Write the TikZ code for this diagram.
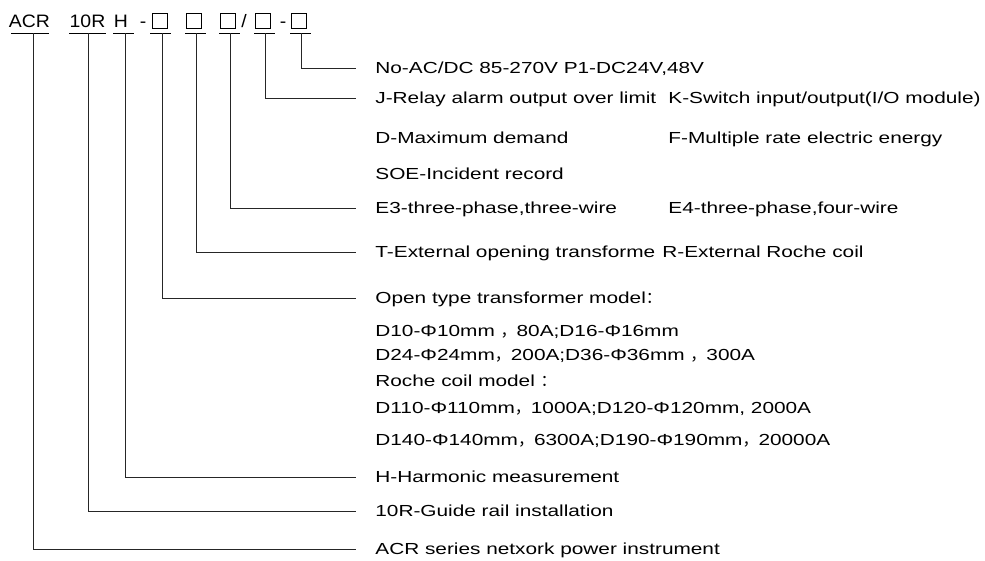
\documentclass[tikz,border=0pt]{standalone}
\usepackage{fontspec}
\setmainfont[FakeStretch=1.3]{Liberation Sans}
\newfontfamily\hdfont[FakeStretch=1.08]{Liberation Sans}
\newfontfamily\cjk{Noto Sans CJK SC}
\usetikzlibrary{positioning}

\begin{document}
\begin{tikzpicture}[x=1pt,y=-1pt,line width=0.8pt,
    hd/.style={font=\hdfont\fontsize{18}{18}\selectfont,inner sep=0pt,anchor=base},
    hbox/.style={draw,line width=0.8pt,minimum size=15pt,inner sep=0pt},
    txt/.style={font=\fontsize{16}{16}\selectfont,inner sep=0pt,anchor=west,
      text height=11.5pt,text depth=0pt},
    leg/.style={draw=black!85,line width=0.8pt,shorten >=19pt}]
  \useasboundingbox (0,0) rectangle (985,560);
  % model code
  \node[hd] (acr) at (29.5,27) {ACR};
  \node[hd] (tenr) at (87.5,27) {10R};
  \node[hd] (h) at (121,27) {H};
  \node[hd] (dashA) at (143,27) {-};
  \node[hbox] (b1) at (160,20.5) {};
  \node[hbox] (b2) at (194,20.5) {};
  \node[hbox] (b3) at (228,20.5) {};
  \node[hd] (slash) at (244,27) {/};
  \node[hbox] (b4) at (263,20.5) {};
  \node[hd] (dashB) at (283,27) {-};
  \node[hbox] (b5) at (299,20.5) {};
  % underlines
  \draw (11,33) -- (49,33);
  \draw (69,33) -- (106,33);
  \draw (113,33) -- (134,33);
  \draw (150,33) -- (171,33);
  \draw (185,33) -- (206,33);
  \draw (219,33) -- (240,33);
  \draw (254,33) -- (275,33);
  \draw (290,33) -- (311,33);
  \coordinate (sAcr) at (33,33);
  \coordinate (sTen) at (88,33);
  \coordinate (sH) at (125,33);
  \coordinate (s1) at (162,33);
  \coordinate (s2) at (196,33);
  \coordinate (s3) at (230,33);
  \coordinate (s4) at (265,33);
  \coordinate (s5) at (301,33);
  % meanings
  \node[txt] (lNo) at (375,68) {No-AC/DC 85-270V P1-DC24V,48V};
  \node[txt] (lJ) at (375,98) {J-Relay alarm output over limit};
  \node[txt] (lK) at (668,98) {K-Switch input/output(I/O module)};
  \node[txt] (lD) at (375,138) {D-Maximum demand};
  \node[txt] (lF) at (668,138) {F-Multiple rate electric energy};
  \node[txt] (lSoe) at (375,174) {SOE-Incident record};
  \node[txt] (lE3) at (375,208) {E3-three-phase,three-wire};
  \node[txt] (lE4) at (668,208) {E4-three-phase,four-wire};
  \node[txt] (lT) at (375,252) {T-External opening transforme};
  \node[txt] (lR) at (662,252) {R-External Roche coil};
  \node[txt] (lOpen) at (375,298) {Open type transformer model{\cjk ：}};
  \node[txt] (lD10) at (375,331) {D10-Φ10mm {\cjk ，}80A;D16-Φ16mm};
  \node[txt] (lD24) at (375,355) {D24-Φ24mm{\cjk ，}200A;D36-Φ36mm {\cjk ，}300A};
  \node[txt] (lRoche) at (375,381) {Roche coil model {\cjk ：}};
  \node[txt] (lD110) at (375,408) {D110-Φ110mm{\cjk ，}1000A;D120-Φ120mm, 2000A};
  \node[txt] (lD140) at (375,440) {D140-Φ140mm{\cjk ，}6300A;D190-Φ190mm{\cjk ，}20000A};
  \node[txt] (lH) at (375,477) {H-Harmonic measurement};
  \node[txt] (lTen) at (375,511) {10R-Guide rail installation};
  \node[txt] (lAcr) at (375,549) {ACR series netxork power instrument};
  % leaders
  \draw[leg] (s5) |- (lNo.west);
  \draw[leg] (s4) |- (lJ.west);
  \draw[leg] (s3) |- (lE3.west);
  \draw[leg] (s2) |- (lT.west);
  \draw[leg] (s1) |- (lOpen.west);
  \draw[leg] (sH) |- (lH.west);
  \draw[leg] (sTen) |- (lTen.west);
  \draw[leg] (sAcr) |- (lAcr.west);
\end{tikzpicture}
\end{document}
